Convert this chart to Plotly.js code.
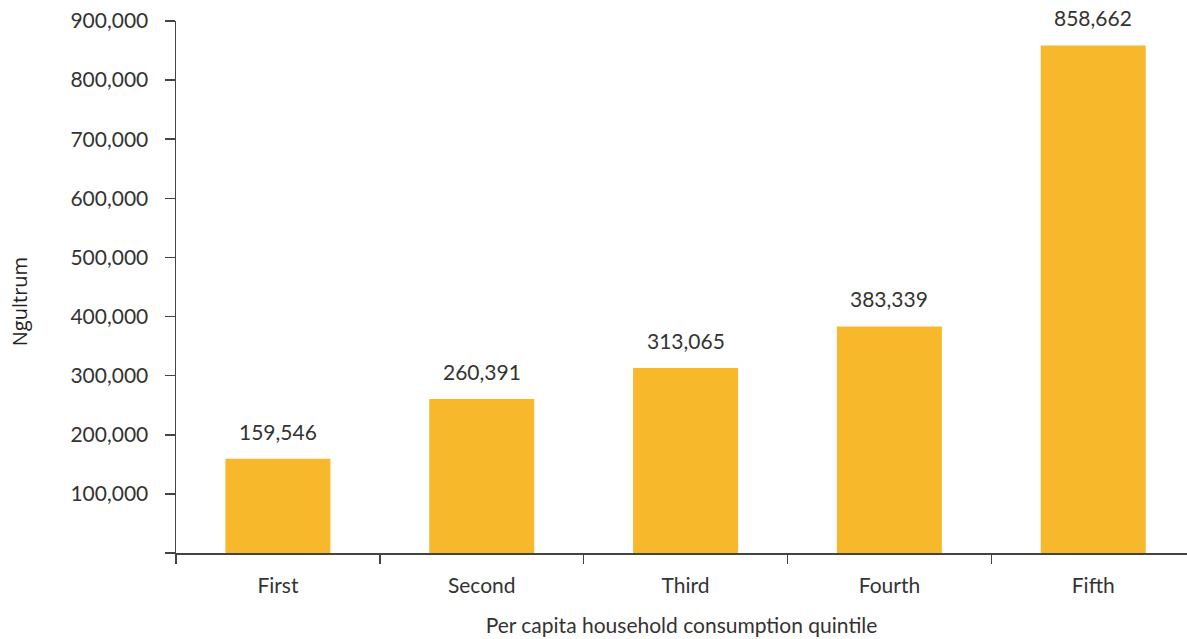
<!DOCTYPE html>
<html><head><meta charset="utf-8">
<script src="https://cdn.plot.ly/plotly-3.0.1.min.js"></script>
<style>html,body{margin:0;padding:0;background:#fff}#chart{width:1187px;height:639px}</style>
</head><body><div id="chart"></div>
<script>
const categories = ["First", "Second", "Third", "Fourth", "Fifth"];
const values = [159546, 260391, 313065, 383339, 858662];
const yTickVals = [0, 100000, 200000, 300000, 400000, 500000, 600000, 700000, 800000, 900000];
const yTickText = ["", "100,000", "200,000", "300,000", "400,000", "500,000", "600,000", "700,000", "800,000", "900,000"];
const yTitle = "Ngultrum";
const xTitle = "Per capita household consumption quintile";

const fontMain = "Lato, 'Open Sans', sans-serif";
const txt = "#333333";

const trace = {
  type: "bar", x: categories, y: values,
  marker: {color: "#F7B92B"}, width: 0.515,
  hoverinfo: "none"
};
const annotations = categories.map((c, i) => ({
  x: c, y: values[i], xref: "x", yref: "y",
  text: values[i].toLocaleString("en-US"),
  showarrow: false, yanchor: "bottom", yshift: 13,
  font: {family: fontMain, size: 21, color: txt}
}));
annotations.push({
  xref: "paper", yref: "paper", x: -0.154, y: 0.472,
  xanchor: "center", yanchor: "middle", textangle: -90,
  text: yTitle, showarrow: false,
  font: {family: "'Open Sans', 'Liberation Sans', sans-serif", size: 20, color: "#222"}
});

const layout = {
  width: 1187, height: 639,
  margin: {l: 176, r: 0, t: 21, b: 86},
  paper_bgcolor: "#fff", plot_bgcolor: "#fff",
  showlegend: false,
  xaxis: {
    range: [-0.5, 4.46], tickson: "boundaries",
    showline: true, linecolor: "#444", linewidth: 1.5,
    ticks: "outside", ticklen: 9, tickcolor: "#444", tickwidth: 1.5,
    showgrid: false, zeroline: false,
    tickfont: {family: fontMain, size: 21, color: txt},
    ticklabelstandoff: 13,
    title: {text: xTitle, standoff: 22,
            font: {family: fontMain, size: 21, color: txt}}
  },
  yaxis: {
    range: [0, 900000], tickvals: yTickVals, ticktext: yTickText,
    showline: true, linecolor: "#444", linewidth: 1.5,
    ticks: "outside", ticklen: 10, tickcolor: "#444", tickwidth: 1.5,
    showgrid: false, zeroline: false,
    tickfont: {family: fontMain, size: 21, color: txt},
    ticklabelstandoff: 12
  },
  annotations: annotations
};
Plotly.newPlot("chart", [trace], layout, {displayModeBar: false, staticPlot: true});
</script></body></html>
